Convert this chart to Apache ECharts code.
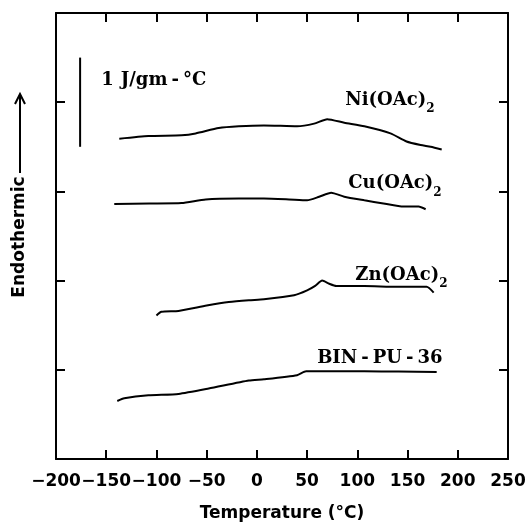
<!DOCTYPE html>
<html>
<head>
<meta charset="utf-8">
<script src="https://cdn.jsdelivr.net/npm/echarts@6/dist/echarts.min.js"></script>
<style>
  html, body { margin: 0; padding: 0; background: #fff; }
  #chart { width: 530px; height: 524px; }
</style>
</head>
<body>
<div id="chart"></div>
<script>
// 数据：温度 (°C) 与热流 (纵轴单位 1 J/gm-°C)
var niT = [-137, -108, -75, -61, -38, -18, 7, 40, 57, 70, 87, 107, 133, 149, 163, 173, 184];
var niY = [3.59, 3.62, 3.63, 3.65, 3.71, 3.73, 3.74, 3.73, 3.76, 3.81, 3.77, 3.73, 3.65, 3.56, 3.52, 3.50, 3.47];

var cuT = [-142, -107, -75, -51, -18, 7, 32, 50, 62, 74, 87, 107, 126, 146, 161, 168];
var cuY = [2.86, 2.865, 2.87, 2.91, 2.92, 2.92, 2.91, 2.90, 2.94, 2.985, 2.94, 2.90, 2.865, 2.83, 2.83, 2.80];

var znT = [-100, -95, -78, -50, -28, -8, 7, 37, 50, 58, 65, 72, 79, 107, 139, 169, 176];
var znY = [1.61, 1.65, 1.66, 1.72, 1.76, 1.78, 1.79, 1.835, 1.89, 1.94, 2.0, 1.965, 1.94, 1.94, 1.93, 1.93, 1.865];

var binT = [-139, -132, -108, -78, -48, -8, 7, 40, 49, 107, 141, 179];
var binY = [0.65, 0.68, 0.714, 0.73, 0.79, 0.88, 0.894, 0.94, 0.983, 0.983, 0.98, 0.975];

var scaleT = [-176, -176];
var scaleY = [3.5, 4.5];

var xTicks = { min: -200, max: 250, step: 50 };
var yTicks = { min: 0, max: 5, step: 1 };

function pairs(xs, ys) {
  return xs.map(function (x, i) { return [x, ys[i]]; });
}

var serif = 'DejaVu Serif';
var labelRich = {
  m: { fontFamily: serif, fontWeight: 'bold', fontSize: 18, color: '#000', verticalAlign: 'top', lineHeight: 20 },
  d: { fontFamily: serif, fontWeight: 'bold', fontSize: 18, color: '#000', verticalAlign: 'top', lineHeight: 20, padding: [0, 4, 0, 4] },
  g: { fontFamily: serif, fontWeight: 'bold', fontSize: 18, color: '#000', verticalAlign: 'top', lineHeight: 20, padding: [0, 7, 0, 0] },
  s: { fontFamily: serif, fontWeight: 'bold', fontSize: 12, color: '#000', verticalAlign: 'top', lineHeight: 12, padding: [12, 0, 0, 0] }
};

function tag(text, x, y) {
  return {
    symbol: 'circle',
    symbolSize: 0,
    data: [{ coord: [x, y] }],
    label: {
      show: true,
      position: 'right',
      distance: 0,
      formatter: text,
      rich: labelRich
    }
  };
}

function curve(name, xs, ys, mark) {
  return {
    name: name,
    type: 'line',
    data: pairs(xs, ys),
    smooth: 0.2,
    showSymbol: false,
    symbol: 'none',
    lineStyle: { color: '#000', width: 2 },
    markPoint: mark,
    animation: false
  };
}

var axisLine = { show: true, onZero: false, lineStyle: { color: '#000', width: 2 } };
var axisTick = { show: true, inside: true, length: 9, lineStyle: { color: '#000', width: 2 } };

var chart = echarts.init(document.getElementById('chart'));
var option = {
  backgroundColor: '#fff',
  animation: false,
  grid: { left: 56, right: 22, top: 13, bottom: 65, containLabel: false, outerBoundsMode: 'none' },
  xAxis: [{
    type: 'value',
    position: 'bottom',
    min: xTicks.min, max: xTicks.max, interval: xTicks.step,
    axisLine: axisLine, axisTick: axisTick,
    splitLine: { show: false },
    axisLabel: {
      margin: 14,
      color: '#000',
      fontFamily: 'DejaVu Sans', fontWeight: 'bold', fontSize: 17,
      formatter: function (v) { return String(v).replace('-', '\u2212'); }
    },
    name: 'Temperature (\u00B0C)',
    nameLocation: 'middle',
    nameGap: 46,
    nameMoveOverlap: false,
    nameTextStyle: { color: '#000', fontFamily: 'DejaVu Sans', fontWeight: 'bold', fontSize: 17 }
  }, {
    type: 'value',
    position: 'top',
    min: xTicks.min, max: xTicks.max, interval: xTicks.step,
    axisLine: axisLine, axisTick: axisTick,
    splitLine: { show: false },
    axisLabel: { show: false }
  }],
  yAxis: [{
    type: 'value',
    position: 'left',
    min: yTicks.min, max: yTicks.max, interval: yTicks.step,
    axisLine: axisLine, axisTick: axisTick,
    splitLine: { show: false },
    axisLabel: { show: false }
  }, {
    type: 'value',
    position: 'right',
    min: yTicks.min, max: yTicks.max, interval: yTicks.step,
    axisLine: axisLine, axisTick: axisTick,
    splitLine: { show: false },
    axisLabel: { show: false }
  }],
  graphic: [{
    type: 'text',
    x: 20, y: 237,
    rotation: Math.PI / 2,
    style: {
      text: 'Endothermic',
      fill: '#000',
      font: 'bold 17px "DejaVu Sans"',
      align: 'center',
      verticalAlign: 'middle'
    }
  }, {
    type: 'line',
    shape: { x1: 20, y1: 173, x2: 20, y2: 94 },
    style: { stroke: '#000', lineWidth: 2 }
  }, {
    type: 'polyline',
    shape: { points: [[15, 104], [20, 94], [25, 104]] },
    style: { stroke: '#000', lineWidth: 2, fill: null }
  }],
  series: [
    curve('Ni(OAc)2', niT, niY, tag('{m|Ni(OAc)}{s|2}', 88, 4.01)),
    curve('Cu(OAc)2', cuT, cuY, tag('{m|Cu(OAc)}{s|2}', 91, 3.075)),
    curve('Zn(OAc)2', znT, znY, tag('{m|Zn(OAc)}{s|2}', 98, 2.05)),
    curve('BIN-PU-36', binT, binY, tag('{m|BIN}{d|-}{m|PU}{d|-}{m|36}', 60, 1.115)),
    curve('scale', scaleT, scaleY, tag('{g|1}{m|J/gm}{d|-}{m|\u00B0C}', -155, 4.235))
  ]
};
chart.setOption(option);
</script>
</body>
</html>
